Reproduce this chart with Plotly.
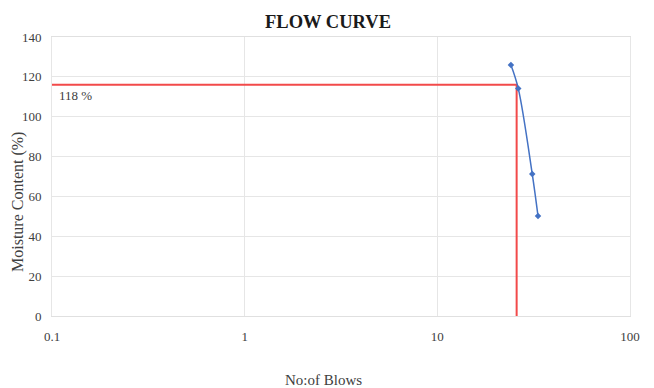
import plotly.graph_objects as go

blows = [24.1, 26.3, 31.1, 33.3]
moisture = [126, 114.2, 71.2, 50.2]

ref_x = [0.1, 25.8, 25.8]
ref_y = [116, 116, 0]
ref_label = "118 %"

x_ticks = [0.1, 1, 10, 100]
x_ticktext = ["0.1", "1", "10", "100"]
y_ticks = [0, 20, 40, 60, 80, 100, 120, 140]

font_family = "Liberation Serif, Times New Roman, Times, serif"
text_color = "#404040"

fig = go.Figure()
fig.add_trace(go.Scatter(x=ref_x, y=ref_y, mode="lines",
                         line=dict(color="#F24A4A", width=2), hoverinfo="skip"))
fig.add_trace(go.Scatter(x=blows, y=moisture, mode="lines+markers",
                         line=dict(color="#4472C4", width=1.5, shape="spline"),
                         marker=dict(symbol="diamond", size=5, color="#4472C4")))

fig.update_layout(
    width=654, height=388,
    margin=dict(l=52, r=24, t=37, b=72),
    paper_bgcolor="white", plot_bgcolor="white",
    showlegend=False,
    font=dict(family=font_family, size=13, color=text_color),
    title=dict(text="<b>FLOW CURVE</b>", x=328/654, xanchor="center", y=1 - 22/388, yanchor="middle",
               font=dict(family=font_family, size=18.5, color="#1a1a1a")),
    xaxis=dict(type="log", range=[-1, 2], tickvals=x_ticks, ticktext=x_ticktext,
               showgrid=True, gridcolor="#E6E6E6", gridwidth=1, zeroline=False,
               showline=True, linecolor="#E0E0E0", mirror=True,
               ticks="outside", ticklen=8, tickcolor="rgba(0,0,0,0)",
               tickfont=dict(family=font_family, size=13, color=text_color)),
    yaxis=dict(range=[0, 140], tickvals=y_ticks,
               showgrid=True, gridcolor="#E6E6E6", gridwidth=1, zeroline=False,
               showline=True, linecolor="#E6E6E6", mirror=True,
               ticks="outside", ticklen=7, tickcolor="rgba(0,0,0,0)",
               tickfont=dict(family=font_family, size=13, color=text_color)),
)

fig.add_annotation(x=-1, y=116, xref="x", yref="y", text=ref_label, showarrow=False,
                   xanchor="left", yanchor="top", xshift=5, yshift=-1,
                   font=dict(family=font_family, size=13, color=text_color))
fig.add_annotation(x=(323 - 52) / 578, y=-64/279, xref="paper", yref="paper", text="No:of Blows",
                   showarrow=False, xanchor="center", yanchor="middle",
                   font=dict(family=font_family, size=15, color=text_color))
fig.add_annotation(x=-34/578, y=(316 - 202) / 279, xref="paper", yref="paper", text="Moisture Content (%)",
                   showarrow=False, textangle=-90, xanchor="center", yanchor="middle",
                   font=dict(family=font_family, size=16, color=text_color))

fig.write_html("out.html")
